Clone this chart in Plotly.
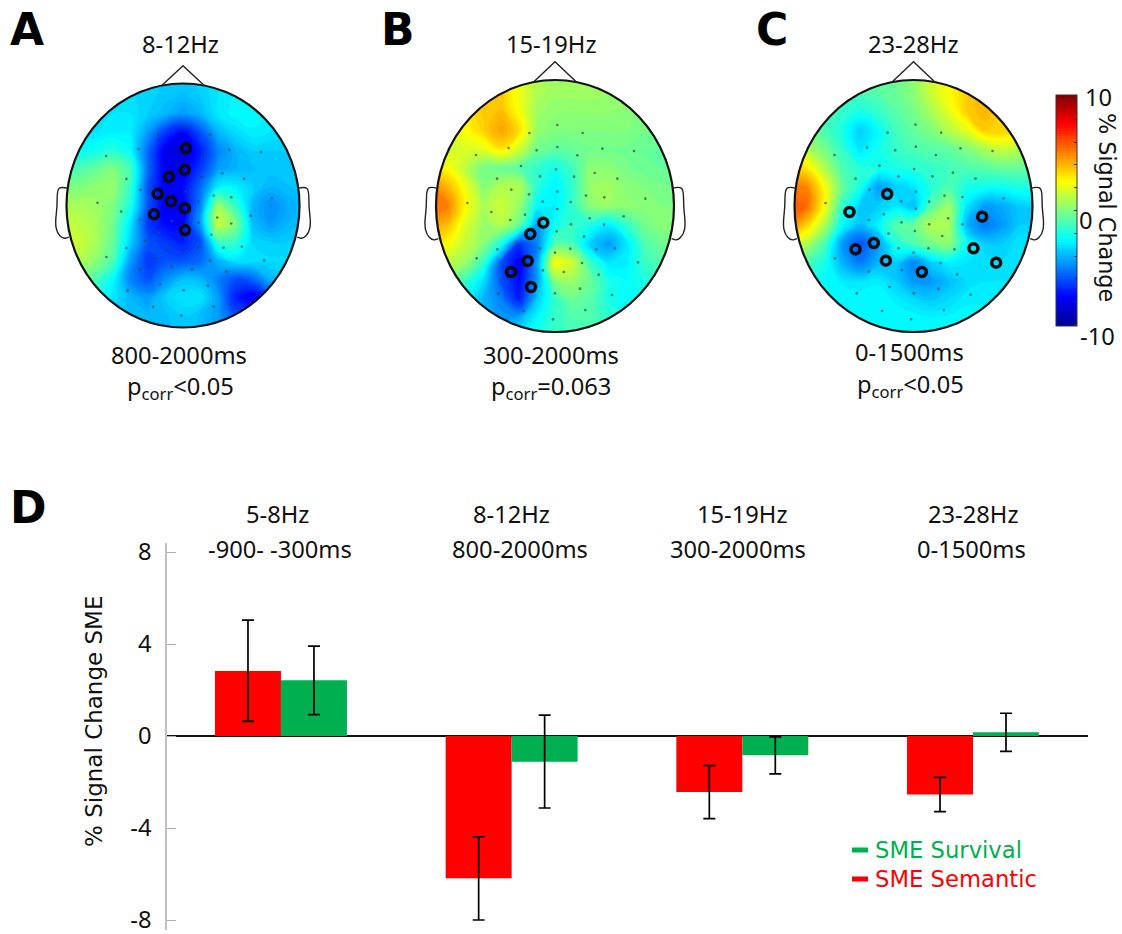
import plotly.graph_objects as go
import math

W, H = 1122, 934
FONT = "Noto Sans"
VFONT = "DejaVu Sans"

# ---------- bar data ----------
bands = ["5-8Hz", "8-12Hz", "15-19Hz", "23-28Hz"]
windows = ["-900- -300ms", "800-2000ms", "300-2000ms", "0-1500ms"]
semantic = [2.83, -6.19, -2.43, -2.54]
semantic_hi = [5.04, -4.38, -1.29, -1.80]
semantic_lo = [0.64, -8.00, -3.59, -3.29]
survival = [2.42, -1.12, -0.84, 0.16]
survival_hi = [3.91, 0.91, -0.04, 0.99]
survival_lo = [0.93, -3.13, -1.65, -0.67]

# ---------- scalp maps (% signal change), rows top to bottom, columns left to right ----------
grid_axis = [-1.05, -0.9, -0.75, -0.6, -0.45, -0.3, -0.15, 0, 0.15, 0.3, 0.45, 0.6, 0.75, 0.9, 1.05]
map_a = [
 [-3,-3,-3,-3,-3.2,-3.4,-3.5,-3.6,-3.4,-3,-2.8,-2.7,-2.7,-2.7,-2.7],
 [-3,-3,-3,-3,-3.2,-3.4,-3.6,-3.8,-3.5,-3,-2.7,-2.6,-2.7,-2.7,-2.7],
 [-3,-3,-3,-3,-3,-3.5,-4,-4.5,-4,-3,-2.6,-2.6,-2.8,-2.9,-2.9],
 [-3,-3,-3,-2.8,-2.8,-4.5,-6.5,-7.5,-6,-4,-3.2,-2.8,-3,-3.2,-3.2],
 [-2.5,-2.5,-2.2,-1.8,-2.5,-5.5,-8,-8.5,-7,-5,-4,-3.5,-3.5,-3.5,-3.5],
 [-1,-1,-.5,0,-1.2,-5.5,-8,-8,-6.5,-4.5,-4,-3.8,-3.6,-3.5,-3.5],
 [0,0,.3,.4,-1.5,-6,-8,-7.5,-5.5,-2.8,-2.8,-3.5,-4,-3.8,-3.6],
 [.8,.8,.6,0,-2,-6,-8,-7.8,-5,.5,-1.5,-4,-4.8,-4.2,-3.8],
 [1.3,1.2,.8,-.3,-3,-6.5,-7.5,-7.5,-4.5,1.5,0,-3.8,-4.5,-4,-3.6],
 [1.6,1.5,.8,-.5,-3.5,-6,-6.5,-7,-6,-1.5,-1.5,-3.3,-3.5,-3.5,-3.4],
 [1,1,.3,-1,-4.5,-6.5,-6,-6,-5.5,-4,-3,-3,-3.2,-3.2,-3.2],
 [-.5,-.5,-1,-2.5,-5,-6,-4.8,-3.8,-4,-5,-6,-5.5,-4,-3.5,-3.5],
 [-1.5,-1.5,-2,-3,-4,-4.5,-3.5,-3,-3,-4.5,-7,-8,-6,-4.5,-4],
 [-2.5,-2.5,-3,-3.5,-3.8,-4,-3.8,-3.5,-3.8,-4.5,-6,-6,-5,-4.5,-4],
 [-3,-3,-3,-3.5,-3.8,-4,-3.8,-3.6,-3.8,-4.5,-5,-5,-4.5,-4.5,-4],
]
map_b = [
 [2,2,2.4,3,3.2,2,.8,.6,.6,.6,.6,.5,.4,.3,.3],
 [2,2,2.6,3.3,3.5,2.2,.9,.6,.6,.6,.5,.4,.3,.2,.2],
 [2,2,2.8,3.6,3.8,2.4,.6,.3,.3,.3,.3,.2,0,0,0],
 [2,2,2.5,3.4,4.4,3.2,.4,0,0,0,0,0,-.2,-.3,-.3],
 [1.5,1.5,1.8,2,3,1.5,-.3,-.6,-.5,-.3,-.3,-.3,-.5,-.5,-.5],
 [3,2.5,1.2,-.3,-.5,-.8,-1.5,-2.2,-1.2,.3,.2,-.2,-.4,-.5,-.5],
 [5,4,2.2,.2,1,1,-1.8,-2.8,-1.5,.5,.6,.2,0,-.2,-.2],
 [5.5,5,2.5,.8,1.5,.5,-2.5,-2.8,-1.5,.2,.5,.3,.2,0,0],
 [4.5,3.8,1.8,.5,1,-.5,-4.5,-2.2,-1.5,-2,-2.8,-1.5,-.3,.2,.2],
 [3,2.5,1.3,.2,-2,-6.5,-5,-1,-1.2,-3.5,-4.5,-3,-1,-.4,-.4],
 [1.5,1.2,.5,-1.5,-6,-7.8,-4.5,2.5,1.5,-1.5,-3,-2.8,-1.5,-.8,-.8],
 [0,-.5,-1.5,-3.2,-6,-7.5,-4.5,0,.5,-.5,-2,-2.5,-2,-1.5,-1.5],
 [-1,-1.5,-2.5,-4,-5,-7,-3.5,-1.5,-.5,-.8,-2,-2.5,-2.2,-2,-2],
 [-2,-2,-3,-3.5,-4.5,-4,-2.5,-1.5,-1,-1,-1.5,-2,-2,-2,-2],
 [-2,-2,-2.5,-3,-3.5,-3,-2,-1.5,-1,-1,-1.2,-1.5,-2,-2,-2],
]
map_c = [
 [-1,-1,-1,-1,-1,-.8,-.5,.2,1.5,2.5,3.5,4,4,4,4],
 [-.8,-.8,-.8,-1,-1,-.8,-.5,.2,1.5,2.5,3.5,4,4,3.8,3.8],
 [-.5,-.7,-1,-1.5,-2,-1.5,-.8,-.2,.8,2,3.5,4,3.5,3,3],
 [-.3,-.3,-1,-2,-3.5,-2.5,-1.2,-.6,0,1,2,3.5,3.5,3,2.5],
 [1.5,1,-.2,-1.5,-3,-2.2,-1.5,-1,-.8,-.6,0,.8,1.4,1,.8],
 [3.5,3,1,-1,-1.8,-2,-2,-1.8,-1.5,-1.2,-1,-.8,-.5,-.5,-.5],
 [5,5,2.5,-.5,-2,-4.5,-3.5,-3,-1.8,-1,-2,-2.2,-2.3,-2,-2],
 [6,5.5,2.5,-1.5,-3.5,-3.5,-3,-3.8,-.8,.5,-3,-4.5,-4.2,-3.5,-3.5],
 [5,3.5,1,-2.5,-3.8,-2.8,-.8,-.5,1,.8,-4,-5.2,-4.5,-3.5,-3.5],
 [2,1,-1,-4.5,-6,-4.5,-2,-1,-.2,.2,-2.5,-3.5,-3.5,-3,-3],
 [0,-1,-2,-4,-5.2,-4,-3.5,-5,-3.5,-2.8,-3,-3,-3.2,-3,-3],
 [-1.5,-2,-2.5,-2.8,-3,-2.8,-3.5,-4.5,-4.5,-3.8,-3.2,-3,-3,-3,-3],
 [-2,-2.2,-2.5,-2.5,-2.5,-2.5,-2.8,-3.2,-3.5,-3.2,-2.8,-2.8,-2.8,-2.8,-2.8],
 [-2.5,-2.5,-2.5,-2.5,-2.5,-2.5,-2.5,-2.5,-2.6,-2.6,-2.6,-2.6,-2.6,-2.6,-2.6],
 [-2.5,-2.5,-2.5,-2.5,-2.5,-2.5,-2.5,-2.5,-2.5,-2.5,-2.5,-2.5,-2.5,-2.5,-2.5],
]

# electrodes
elec_a = [(557,380),(476,404),(632,404),(416,447),(689,449),(784,456),(319,468),(616,467),(452,501),(668,520),(606,531),(733,537),(380,537),(422,570),(558,575),(642,587),(695,592),(817,595),(293,609),(597,605),(364,635),(753,648),(421,659),(653,653),(516,664),(597,669),(695,671),(478,698),(635,705),(436,723),(380,745),(507,741),(596,743),(672,744),(727,741),(553,756),(320,772),(470,776),(632,783),(794,782),(516,803),(421,810),(577,809),(680,816),(481,854),(625,858),(384,873),(552,872),(460,922),(642,921),(545,948)]
sig_a = [(559,445),(555,510),(508,531),(474,582),(514,604),(556,625),(463,643),(556,691)]
elec_b = [(562,375),(478,399),(638,399),(416,444),(500,451),(562,441),(697,446),(792,453),(318,465),(622,466),(453,498),(558,508),(510,529),(612,530),(674,519),(742,536),(381,536),(424,569),(477,583),(562,575),(648,587),(703,592),(826,596),(292,609),(518,605),(602,606),(364,636),(562,627),(465,644),(659,655),(761,649),(421,660),(603,673),(702,674),(560,694),(642,710),(437,728),(382,748),(510,745),(601,746),(679,748),(735,745),(555,758),(320,775),(636,789),(804,787),(519,811),(581,816),(686,824),(630,866),(385,881),(555,880),(726,885),(461,933),(646,930),(549,958)]
sig_b = [(520,668),(481,702),(473,783),(423,816),(483,861)]
elec_c = [(526,374),(442,398),(603,398),(381,443),(465,451),(527,440),(661,445),(757,453),(283,465),(587,465),(418,497),(522,507),(475,529),(577,529),(638,518),(706,536),(346,536),(388,569),(527,575),(613,587),(667,591),(790,595),(256,609),(483,604),(567,605),(527,626),(431,643),(624,655),(386,660),(484,667),(567,673),(667,673),(524,693),(445,701),(606,708),(475,745),(565,745),(643,748),(520,758),(284,775),(601,789),(485,810),(386,815),(651,823),(448,861),(595,866),(350,880),(521,880),(691,884),(426,933),(611,930),(513,958)]
sig_c = [(441,582),(328,636),(726,650),(401,729),(346,748),(700,745),(437,782),(768,788),(545,816)]

# head outline in head units
nose_x = [-0.18, 0, 0.18]
nose_y = [0.985, 1.145, 0.985]
ear_x = [0.985, 1.043, 1.08, 1.08, 1.097, 1.08, 1.029, 0.98]
ear_y = [0.14, 0.155, 0.128, -0.008, -0.144, -0.226, -0.275, -0.259]

JET = [[0, "rgb(0,0,143)"], [0.125, "rgb(0,0,255)"], [0.375, "rgb(0,255,255)"],
       [0.625, "rgb(255,255,0)"], [0.875, "rgb(255,0,0)"], [1, "rgb(128,0,0)"]]
RED, GREEN = "#FF0000", "#00B050"


def px(x):
    return x / W


def py(y):
    return 1 - y / H


fig = go.Figure()

# ---------- bars ----------
for name, vals, hi, lo, col in [("SME Semantic", semantic, semantic_hi, semantic_lo, RED),
                                ("SME Survival", survival, survival_hi, survival_lo, GREEN)]:
    fig.add_trace(go.Bar(
        x=[0, 1, 2, 3], y=vals, name=name, marker=dict(color=col, line_width=0), showlegend=False,
        error_y=dict(type="data", symmetric=False,
                     array=[h - v for h, v in zip(hi, vals)],
                     arrayminus=[v - l for v, l in zip(vals, lo)],
                     color="black", thickness=1.7, width=6)))

y_unit = 23.0
zero_px = 736
y_top, y_bot = 543, 930

layout = dict(
    width=W, height=H, autosize=False, paper_bgcolor="white", plot_bgcolor="rgba(0,0,0,0)",
    margin=dict(l=0, r=0, t=0, b=0, autoexpand=False),
    barmode="group", bargap=0.428, bargroupgap=0, showlegend=False,
    xaxis=dict(domain=[px(167), px(1088)], range=[-0.494, 3.4985], visible=False, fixedrange=True),
    yaxis=dict(domain=[py(y_bot), py(y_top)],
               range=[(zero_px - y_bot) / y_unit, (zero_px - y_top) / y_unit],
               tickvals=[8, 4, 0, -4, -8], ticktext=["8", "4", "0", "-4", "-8"],
               ticks="inside", ticklen=9, tickcolor="#b0b0b0", tickwidth=1,
               ticklabelstandoff=9, ticklabeloverflow="allow", showline=True, linecolor="#c0c0c0", linewidth=1.5,
               showgrid=False, zeroline=True, zerolinecolor="#111", zerolinewidth=2,
               tickfont=dict(family=FONT, size=23.7, color="#111"), fixedrange=True),
    coloraxis=dict(cmin=-10, cmax=10, colorscale=JET,
                   colorbar=dict(x=px(1056), xanchor="left", xpad=0, y=py(210.5), yanchor="middle",
                                 ypad=0, thickness=21, thicknessmode="pixels", len=231, lenmode="pixels",
                                 outlinewidth=1, outlinecolor="#333", showticklabels=False,
                                 tick0=-10, dtick=2, ticks="inside",
                                 ticklen=3, tickcolor="#333", tickwidth=1)),
)

shapes = []
panels = [
    ("2", map_a, elec_a, sig_a, 183, 205.5, 116.5, 122, (550, 617, 350, 367)),
    ("3", map_b, elec_b, sig_b, 555, 206, 119, 126, (555, 618, 357, 378)),
    ("4", map_c, elec_c, sig_c, 913.5, 206, 119, 126, (520, 618, 357, 378)),
]

ring = [(math.cos(i * math.pi / 90), math.sin(i * math.pi / 90)) for i in range(180)]
mask = "M -1.14 -1.14 L 1.14 -1.14 L 1.14 1.14 L -1.14 1.14 Z M " + \
       " L ".join(f"{a:.4f} {b:.4f}" for a, b in ring) + " Z"


def smooth(xs, ys):
    d = f"M {xs[0]} {ys[0]} "
    for i in range(1, len(xs) - 1):
        mx, my = (xs[i] + xs[i + 1]) / 2, (ys[i] + ys[i + 1]) / 2
        d += f"Q {xs[i]} {ys[i]} {mx} {my} "
    return d + f"L {xs[-1]} {ys[-1]}"


for sid, z, elec, sig, cx, cy, rx, ry, (zx, zy, zrx, zry) in panels:
    xa, ya = "x" + sid, "y" + sid
    layout["xaxis" + sid] = dict(domain=[px(cx - 1.3 * rx), px(cx + 1.3 * rx)], range=[-1.3, 1.3],
                                 visible=False, fixedrange=True)
    layout["yaxis" + sid] = dict(domain=[py(cy + 1.3 * ry), py(cy - 1.3 * ry)], range=[-1.3, 1.3],
                                 visible=False, fixedrange=True)
    fig.add_trace(go.Contour(x=grid_axis, y=grid_axis, z=z[::-1], coloraxis="coloraxis",
                             contours=dict(coloring="fill", start=-10, end=10, size=0.25, showlines=False),
                             line=dict(width=0, smoothing=1.3), xaxis=xa, yaxis=ya, hoverinfo="skip"))
    fig.add_trace(go.Scatter(x=[(p[0] - zx) / zrx for p in elec], y=[(zy - p[1]) / zry for p in elec],
                             mode="markers", xaxis=xa, yaxis=ya, hoverinfo="skip",
                             marker=dict(size=2.6, color="#2f4a3a", opacity=0.7)))
    fig.add_trace(go.Scatter(x=[(p[0] - zx) / zrx for p in sig], y=[(zy - p[1]) / zry for p in sig],
                             mode="markers", xaxis=xa, yaxis=ya, hoverinfo="skip",
                             marker=dict(symbol="circle-open", size=9, color="#0a0a0a", line=dict(width=3.5, color="#0a0a0a"))))
    shapes.append(dict(type="path", path=mask, xref=xa, yref=ya, fillcolor="white", line_width=0, layer="above"))
    line = dict(color="#111", width=2.2)
    thin = dict(color="#222", width=1.4)
    shapes.append(dict(type="circle", x0=-1, x1=1, y0=-1, y1=1, xref=xa, yref=ya, line=line, layer="above"))
    shapes.append(dict(type="path", path="M " + " L ".join(f"{a} {b}" for a, b in zip(nose_x, nose_y)),
                       xref=xa, yref=ya, line=thin, layer="above"))
    shapes.append(dict(type="path", path=smooth(ear_x, ear_y), xref=xa, yref=ya, line=thin, layer="above"))
    shapes.append(dict(type="path", path=smooth([-e for e in ear_x], ear_y), xref=xa, yref=ya, line=thin, layer="above"))

# legend dashes
shapes.append(dict(type="line", xref="paper", yref="paper", x0=px(852), x1=px(868), y0=py(850), y1=py(850),
                   line=dict(color=GREEN, width=5)))
shapes.append(dict(type="line", xref="paper", yref="paper", x0=px(852), x1=px(868), y0=py(879), y1=py(879),
                   line=dict(color=RED, width=5)))
layout["shapes"] = shapes

ann = []


def text(s, x, y, size=23.7, family=FONT, color="#111", anchor="center", angle=0):
    ann.append(dict(text=s, x=px(x), y=py(y), xref="paper", yref="paper", showarrow=False, xanchor=anchor,
                    yanchor="middle", textangle=angle, font=dict(family=family, size=size, color=color),
                    borderpad=0, bgcolor="rgba(0,0,0,0)"))


for s, x, y in [("A", 27, 29), ("B", 398, 29), ("C", 772, 29), ("D", 28, 507)]:
    text(f"<b>{s}</b>", x, y, size=44, family=VFONT, color="black")

for s, x, y in [("8-12Hz", 180, 44), ("15-19Hz", 551, 44), ("23-28Hz", 913, 44),
                ("800-2000ms", 179, 355), ("300-2000ms", 551, 355), ("0-1500ms", 909, 352)]:
    text(s, x, y)
for s, x, y in [("p<sub>corr</sub>&lt;0.05", 180, 387), ("p<sub>corr</sub>=0.063", 551, 387),
                ("p<sub>corr</sub>&lt;0.05", 910, 385)]:
    text(s, x, y)

for b, w, xb, xw in zip(bands, windows, [277, 511, 742, 973], [280, 520, 738, 971]):
    text(b, xb, 514)
    text(w, xw, 549)

text("10", 1098, 97)
text("0", 1086, 220)
text("-10", 1097, 336)
text("% Signal Change", 1107, 207, size=22.3, family=VFONT, angle=90)
text("% Signal Change SME", 94, 722, size=23, family=VFONT, angle=-90)
text("SME Survival", 874, 850, size=22.7, family=VFONT, color=GREEN, anchor="left")
text("SME Semantic", 874, 879, size=22.7, family=VFONT, color=RED, anchor="left")
layout["annotations"] = ann

fig.update_layout(**layout)
fig.write_html("out.html", config=dict(displayModeBar=False),
               post_script="document.body.style.margin='0';document.documentElement.style.overflow='hidden';")
